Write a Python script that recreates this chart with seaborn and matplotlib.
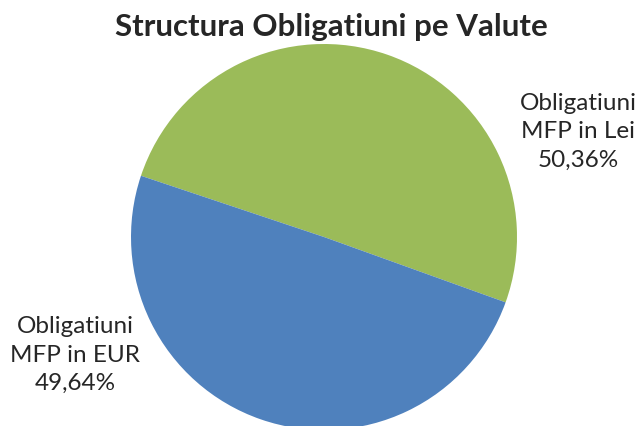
import matplotlib
matplotlib.use("Agg")
import matplotlib.pyplot as plt
import seaborn as sns

sns.set_style("white")
plt.rcParams["font.family"] = ["Lato", "DejaVu Sans"]

# data
categories = ["Obligatiuni\nMFP in Lei", "Obligatiuni\nMFP in EUR"]
shares = [50.36, 49.64]
colors = sns.color_palette(["#9BBB59", "#4F81BD"])

fig = plt.figure(figsize=(6.38, 4.26), dpi=100)
# pie area: centre ~ (324, 237) px, radius ~193 px
ax = fig.add_axes([131 / 638, -4 / 426, 386 / 638, 386 / 426])
ax.pie(shares, colors=colors, startangle=161.5, counterclock=False,
       wedgeprops={"linewidth": 0})
ax.set_xlim(-1, 1)
ax.set_ylim(-1, 1)
ax.set_aspect("equal")
ax.axis("off")

fig.text(331 / 638, 1 - 27 / 426, "Structura Obligatiuni pe Valute",
         ha="center", va="center", fontsize=22.5, fontweight="bold")

label_pos = [(578, 132), (75, 355)]
for lab, val, (x, y) in zip(categories, shares, label_pos):
    txt = lab + "\n" + f"{val:.2f}%".replace(".", ",")
    fig.text(x / 638, 1 - y / 426, txt, ha="center", va="center",
             fontsize=17.5, linespacing=1.42)

fig.savefig("out.png", dpi=100)
